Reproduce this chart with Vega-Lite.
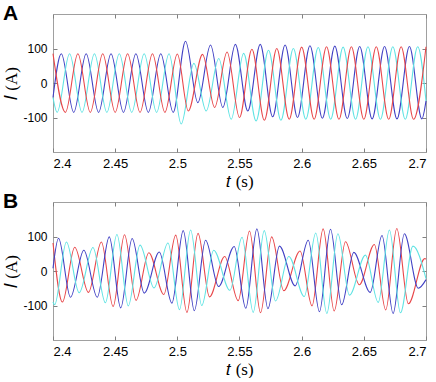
{
"$schema": "https://vega.github.io/schema/vega-lite/v6.json",
"padding": {"left": 2, "top": 2, "right": 4, "bottom": 0},
"spacing": 0,
"data": {"values": [
{"p":"A","c":"b","t":2.4,"i":-42},{"p":"A","c":"c","t":2.4,"i":-42},
{"p":"A","c":"r","t":2.4,"i":85},{"p":"A","c":"c","t":2.40333,"i":-85},{"p":"A","c":"b","t":2.40667,"i":85},{"p":"A","c":"r","t":2.41,"i":-85},{"p":"A","c":"c","t":2.41333,"i":85},{"p":"A","c":"b","t":2.41667,"i":-85},
{"p":"A","c":"r","t":2.42,"i":85},{"p":"A","c":"c","t":2.42333,"i":-85},{"p":"A","c":"b","t":2.42667,"i":85},{"p":"A","c":"r","t":2.43,"i":-85},{"p":"A","c":"c","t":2.43333,"i":85},{"p":"A","c":"b","t":2.43667,"i":-85},
{"p":"A","c":"r","t":2.44,"i":85},{"p":"A","c":"c","t":2.44333,"i":-85},{"p":"A","c":"b","t":2.44667,"i":85},{"p":"A","c":"r","t":2.45,"i":-85},{"p":"A","c":"c","t":2.45333,"i":85},{"p":"A","c":"b","t":2.45667,"i":-85},
{"p":"A","c":"r","t":2.46,"i":85},{"p":"A","c":"c","t":2.46333,"i":-85},{"p":"A","c":"b","t":2.46667,"i":85},{"p":"A","c":"r","t":2.47,"i":-85},{"p":"A","c":"c","t":2.47333,"i":85},{"p":"A","c":"b","t":2.47667,"i":-85},
{"p":"A","c":"r","t":2.48,"i":85},{"p":"A","c":"c","t":2.48333,"i":-85},{"p":"A","c":"b","t":2.48667,"i":85},{"p":"A","c":"r","t":2.49,"i":-85},{"p":"A","c":"c","t":2.49333,"i":85},{"p":"A","c":"b","t":2.49667,"i":-85},
{"p":"A","c":"r","t":2.5,"i":84},{"p":"A","c":"c","t":2.5031,"i":-119},{"p":"A","c":"b","t":2.5066,"i":121},{"p":"A","c":"r","t":2.5088,"i":-81},{"p":"A","c":"c","t":2.5133,"i":57},{"p":"A","c":"b","t":2.5165,"i":-57},
{"p":"A","c":"r","t":2.5203,"i":83},{"p":"A","c":"c","t":2.5232,"i":-81},{"p":"A","c":"b","t":2.5267,"i":110},{"p":"A","c":"r","t":2.53,"i":-71},{"p":"A","c":"c","t":2.5333,"i":71},{"p":"A","c":"b","t":2.5366,"i":-71},
{"p":"A","c":"r","t":2.54,"i":90},{"p":"A","c":"c","t":2.54333,"i":-105},{"p":"A","c":"b","t":2.54667,"i":112},{"p":"A","c":"r","t":2.55,"i":-100},{"p":"A","c":"c","t":2.55333,"i":86},{"p":"A","c":"b","t":2.55667,"i":-81},
{"p":"A","c":"r","t":2.56,"i":98},{"p":"A","c":"c","t":2.56333,"i":-110},{"p":"A","c":"b","t":2.56667,"i":112},{"p":"A","c":"r","t":2.57,"i":-108},{"p":"A","c":"c","t":2.57333,"i":95},{"p":"A","c":"b","t":2.57667,"i":-98},
{"p":"A","c":"r","t":2.58,"i":100},{"p":"A","c":"c","t":2.58333,"i":-108},{"p":"A","c":"b","t":2.58667,"i":110},{"p":"A","c":"r","t":2.59,"i":-105},{"p":"A","c":"c","t":2.59333,"i":100},{"p":"A","c":"b","t":2.59667,"i":-100},
{"p":"A","c":"r","t":2.6,"i":104},{"p":"A","c":"c","t":2.60333,"i":-105},{"p":"A","c":"b","t":2.60667,"i":108},{"p":"A","c":"r","t":2.61,"i":-105},{"p":"A","c":"c","t":2.61333,"i":103},{"p":"A","c":"b","t":2.61667,"i":-102},
{"p":"A","c":"r","t":2.62,"i":105},{"p":"A","c":"c","t":2.62333,"i":-105},{"p":"A","c":"b","t":2.62667,"i":107},{"p":"A","c":"r","t":2.63,"i":-105},{"p":"A","c":"c","t":2.63333,"i":104},{"p":"A","c":"b","t":2.63667,"i":-103},
{"p":"A","c":"r","t":2.64,"i":105},{"p":"A","c":"c","t":2.64333,"i":-105},{"p":"A","c":"b","t":2.64667,"i":106},{"p":"A","c":"r","t":2.65,"i":-105},{"p":"A","c":"c","t":2.65333,"i":105},{"p":"A","c":"b","t":2.65667,"i":-104},
{"p":"A","c":"r","t":2.66,"i":105},{"p":"A","c":"c","t":2.66333,"i":-105},{"p":"A","c":"b","t":2.66667,"i":106},{"p":"A","c":"r","t":2.67,"i":-105},{"p":"A","c":"c","t":2.67333,"i":105},{"p":"A","c":"b","t":2.67667,"i":-104},
{"p":"A","c":"r","t":2.68,"i":105},{"p":"A","c":"c","t":2.68333,"i":-105},{"p":"A","c":"b","t":2.68667,"i":106},{"p":"A","c":"r","t":2.69,"i":-105},{"p":"A","c":"c","t":2.69333,"i":105},{"p":"A","c":"b","t":2.69667,"i":-104},
{"p":"A","c":"r","t":2.7,"i":105},{"p":"A","c":"b","t":2.7,"i":-52},{"p":"A","c":"c","t":2.7,"i":-52},
{"p":"B","c":"r","t":2.4,"i":81},{"p":"B","c":"b","t":2.4,"i":8},{"p":"B","c":"c","t":2.4,"i":-90},
{"p":"B","c":"c","t":2.40131,"i":-98},{"p":"B","c":"b","t":2.40444,"i":95},{"p":"B","c":"r","t":2.40758,"i":-90},{"p":"B","c":"c","t":2.41079,"i":84},{"p":"B","c":"b","t":2.41407,"i":-76},{"p":"B","c":"r","t":2.41747,"i":69},
{"p":"B","c":"c","t":2.42106,"i":-63},{"p":"B","c":"b","t":2.42479,"i":60},{"p":"B","c":"r","t":2.42854,"i":-62},{"p":"B","c":"c","t":2.43216,"i":68},{"p":"B","c":"b","t":2.43559,"i":-76},{"p":"B","c":"r","t":2.4389,"i":84},
{"p":"B","c":"c","t":2.44212,"i":-92},{"p":"B","c":"b","t":2.44525,"i":99},{"p":"B","c":"r","t":2.44835,"i":-103},{"p":"B","c":"c","t":2.45141,"i":106},{"p":"B","c":"b","t":2.45446,"i":-107},{"p":"B","c":"r","t":2.45751,"i":105},
{"p":"B","c":"c","t":2.46056,"i":-101},{"p":"B","c":"b","t":2.46365,"i":94},{"p":"B","c":"r","t":2.46678,"i":-85},{"p":"B","c":"c","t":2.46998,"i":75},{"p":"B","c":"b","t":2.47339,"i":-64},{"p":"B","c":"r","t":2.47709,"i":53},
{"p":"B","c":"c","t":2.48131,"i":-49},{"p":"B","c":"b","t":2.48547,"i":55},{"p":"B","c":"r","t":2.48913,"i":-68},{"p":"B","c":"c","t":2.49248,"i":81},{"p":"B","c":"b","t":2.49564,"i":-93},{"p":"B","c":"r","t":2.49872,"i":104},
{"p":"B","c":"c","t":2.50174,"i":-112},{"p":"B","c":"b","t":2.50474,"i":117},{"p":"B","c":"r","t":2.50771,"i":-120},{"p":"B","c":"c","t":2.51068,"i":119},{"p":"B","c":"b","t":2.51366,"i":-115},{"p":"B","c":"r","t":2.51664,"i":109},
{"p":"B","c":"c","t":2.51965,"i":-100},{"p":"B","c":"b","t":2.52272,"i":89},{"p":"B","c":"r","t":2.52588,"i":-75},{"p":"B","c":"c","t":2.52924,"i":60},{"p":"B","c":"b","t":2.53317,"i":-45},{"p":"B","c":"r","t":2.53807,"i":42},
{"p":"B","c":"c","t":2.54229,"i":-56},{"p":"B","c":"b","t":2.54575,"i":71},{"p":"B","c":"r","t":2.54896,"i":-86},{"p":"B","c":"c","t":2.55204,"i":98},{"p":"B","c":"b","t":2.55507,"i":-108},{"p":"B","c":"r","t":2.55805,"i":116},
{"p":"B","c":"c","t":2.56102,"i":-120},{"p":"B","c":"b","t":2.56398,"i":122},{"p":"B","c":"r","t":2.56693,"i":-121},{"p":"B","c":"c","t":2.5699,"i":117},{"p":"B","c":"b","t":2.57288,"i":-109},{"p":"B","c":"r","t":2.5759,"i":99},
{"p":"B","c":"c","t":2.57897,"i":-87},{"p":"B","c":"b","t":2.58215,"i":72},{"p":"B","c":"r","t":2.58558,"i":-57},{"p":"B","c":"c","t":2.58969,"i":42},{"p":"B","c":"b","t":2.59472,"i":-43},{"p":"B","c":"r","t":2.5987,"i":58},
{"p":"B","c":"c","t":2.6021,"i":-74},{"p":"B","c":"b","t":2.60528,"i":89},{"p":"B","c":"r","t":2.60833,"i":-101},{"p":"B","c":"c","t":2.61134,"i":110},{"p":"B","c":"b","t":2.61432,"i":-118},{"p":"B","c":"r","t":2.61728,"i":122},
{"p":"B","c":"c","t":2.62024,"i":-123},{"p":"B","c":"b","t":2.62319,"i":121},{"p":"B","c":"r","t":2.62615,"i":-116},{"p":"B","c":"c","t":2.62914,"i":108},{"p":"B","c":"b","t":2.63216,"i":-98},{"p":"B","c":"r","t":2.63523,"i":85},
{"p":"B","c":"c","t":2.63845,"i":-70},{"p":"B","c":"b","t":2.64194,"i":54},{"p":"B","c":"r","t":2.64632,"i":-40},{"p":"B","c":"c","t":2.65127,"i":46},{"p":"B","c":"b","t":2.65513,"i":-62},{"p":"B","c":"r","t":2.65844,"i":77},
{"p":"B","c":"c","t":2.66157,"i":-91},{"p":"B","c":"b","t":2.66462,"i":103},{"p":"B","c":"r","t":2.66762,"i":-113},{"p":"B","c":"c","t":2.67059,"i":119},{"p":"B","c":"b","t":2.67355,"i":-123},{"p":"B","c":"r","t":2.6765,"i":123},
{"p":"B","c":"c","t":2.67945,"i":-121},{"p":"B","c":"b","t":2.6826,"i":108},{"p":"B","c":"r","t":2.6858,"i":-95},{"p":"B","c":"c","t":2.6895,"i":72},{"p":"B","c":"b","t":2.6938,"i":-50},{"p":"B","c":"r","t":2.699,"i":36},
{"p":"B","c":"r","t":2.7,"i":35},{"p":"B","c":"b","t":2.7,"i":-25},{"p":"B","c":"c","t":2.7,"i":-22}
]},
"vconcat": [
{
"title": {"text": "A", "anchor": "start", "frame": "bounds", "offset": -10},
"width": 373, "height": 138,
"transform": [{"filter": "datum.p === 'A'"}],
"layer": [
{"mark": {"type": "line", "interpolate": "monotone", "strokeWidth": 1.1},
 "encoding": {
  "x": {"field": "t", "type": "quantitative", "scale": {"domain": [2.4, 2.7], "nice": false, "zero": false}, "axis": {"values": [2.4, 2.45, 2.5, 2.55, 2.6, 2.65, 2.7], "format": "~g", "title": "𝑡 (s)"}},
  "y": {"field": "i", "type": "quantitative", "scale": {"domain": [-200, 200], "nice": false}, "axis": {"values": [-100, 0, 100], "labelExpr": "'' + datum.value", "title": "𝐼 (A)"}},
  "color": {"field": "c", "type": "nominal", "scale": {"domain": ["r", "b", "c"], "range": ["#e8474a", "#4040c4", "#5fe3e3"]}, "legend": null}
 }},
{"mark": {"type": "line", "opacity": 0},
 "encoding": {
  "x": {"field": "t", "type": "quantitative", "scale": {"domain": [2.4, 2.7], "nice": false, "zero": false}, "axis": {"orient": "top", "values": [2.4, 2.45, 2.5, 2.55, 2.6, 2.65, 2.7], "labels": false, "title": null}},
  "y": {"field": "i", "type": "quantitative", "scale": {"domain": [-200, 200], "nice": false}, "axis": {"orient": "right", "values": [-100, 0, 100], "labels": false, "title": null}}
 }}
],
"resolve": {"axis": {"x": "independent", "y": "independent"}}
},
{
"title": {"text": "B", "anchor": "start", "frame": "bounds", "offset": -10},
"width": 373, "height": 138,
"transform": [{"filter": "datum.p === 'B'"}],
"layer": [
{"mark": {"type": "line", "interpolate": "monotone", "strokeWidth": 1.1},
 "encoding": {
  "x": {"field": "t", "type": "quantitative", "scale": {"domain": [2.4, 2.7], "nice": false, "zero": false}, "axis": {"values": [2.4, 2.45, 2.5, 2.55, 2.6, 2.65, 2.7], "format": "~g", "title": "𝑡 (s)"}},
  "y": {"field": "i", "type": "quantitative", "scale": {"domain": [-200, 200], "nice": false}, "axis": {"values": [-100, 0, 100], "labelExpr": "'' + datum.value", "title": "𝐼 (A)"}},
  "color": {"field": "c", "type": "nominal", "scale": {"domain": ["r", "b", "c"], "range": ["#e8474a", "#4040c4", "#5fe3e3"]}, "legend": null}
 }},
{"mark": {"type": "line", "opacity": 0},
 "encoding": {
  "x": {"field": "t", "type": "quantitative", "scale": {"domain": [2.4, 2.7], "nice": false, "zero": false}, "axis": {"orient": "top", "values": [2.4, 2.45, 2.5, 2.55, 2.6, 2.65, 2.7], "labels": false, "title": null}},
  "y": {"field": "i", "type": "quantitative", "scale": {"domain": [-200, 200], "nice": false}, "axis": {"orient": "right", "values": [-100, 0, 100], "labels": false, "title": null}}
 }}
],
"resolve": {"axis": {"x": "independent", "y": "independent"}}
}
],
"config": {
 "view": {"stroke": "#a0a0a0", "strokeWidth": 1},
 "axis": {"grid": false, "domain": false, "tickColor": "#808080", "tickSize": -4, "labelFont": "Liberation Sans", "labelFontSize": 13, "labelColor": "#000000", "titleFont": "Liberation Serif", "titleFontSize": 17, "titleFontWeight": "normal", "titleColor": "#000000"},
 "axisX": {"labelPadding": 9, "titlePadding": 3},
 "axisY": {"labelPadding": 10, "titlePadding": 2, "labelFontSize": 12},
 "title": {"font": "Liberation Sans", "fontSize": 21, "fontWeight": "bold", "color": "#000000"}
}
}
